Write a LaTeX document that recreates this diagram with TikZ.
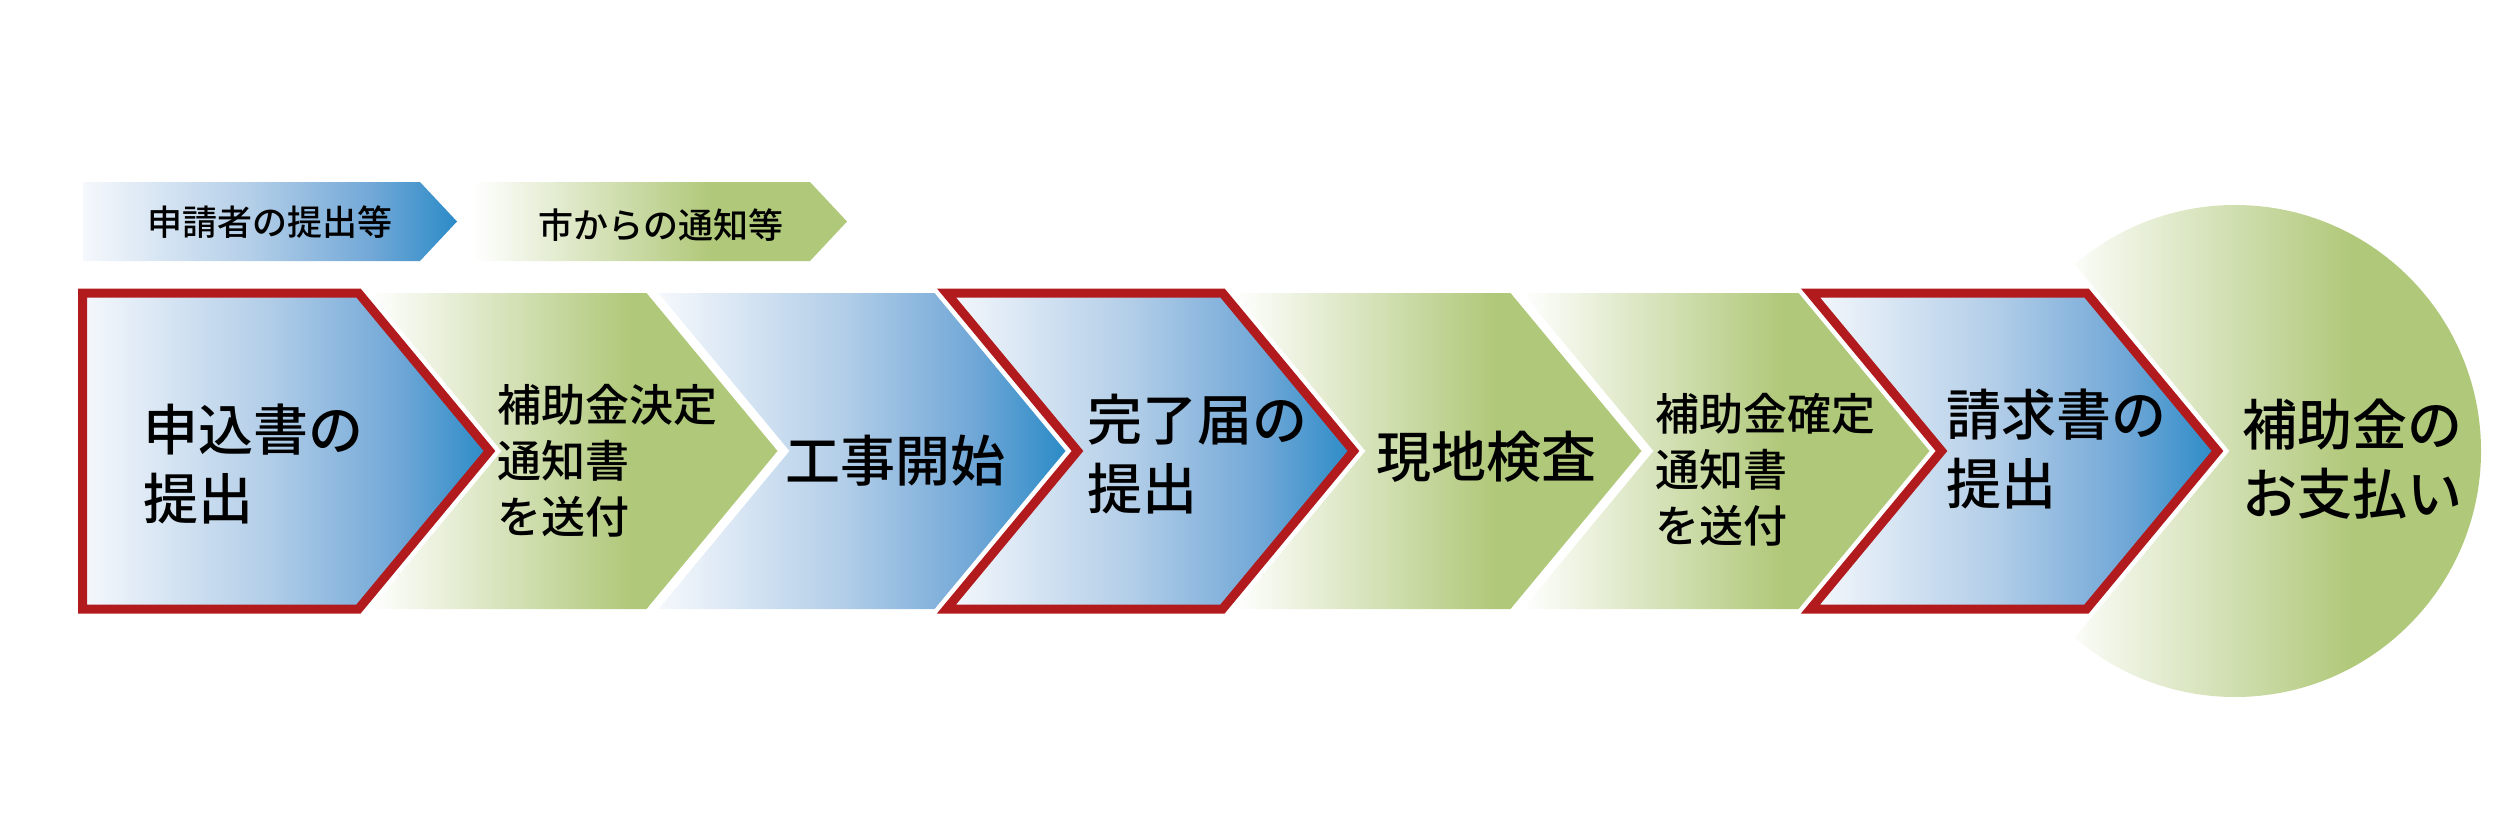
\documentclass[tikz,border=0pt]{standalone}
\usepackage{fontspec}
\IfFontExistsTF{Noto Sans CJK JP Medium}
  {\newfontfamily\jpfont{Noto Sans CJK JP Medium}\newcommand\jpwt{}}
  {\newfontfamily\jpfont{Noto Sans CJK JP}\newcommand\jpwt{\bfseries}}
\definecolor{grn}{HTML}{B0C879}
\definecolor{bluewhite}{HTML}{F5F8FC}
\definecolor{bluemid}{HTML}{B3CEE8}
\definecolor{bluemidb}{HTML}{72A8D7}
\definecolor{bluedark}{HTML}{2B8BC7}
\definecolor{redline}{HTML}{B11B1D}
\pgfdeclarehorizontalshading{greensh}{100bp}{color(0bp)=(white); color(25bp)=(white); color(57bp)=(grn); color(100bp)=(grn)}
\pgfdeclarehorizontalshading{circsh}{100bp}{color(0bp)=(white); color(32bp)=(white); color(62bp)=(grn); color(100bp)=(grn)}
\pgfdeclarehorizontalshading{bluesh}{100bp}{color(0bp)=(bluewhite); color(25bp)=(bluewhite); color(47.5bp)=(bluemid); color(63.5bp)=(bluemidb); color(75bp)=(bluedark); color(100bp)=(bluedark)}
\tikzset{
  greenchev/.style={shade, shading=greensh},
  circfill/.style={shade, shading=circsh},
  bluechev/.style={shade, shading=bluesh},
  redchev/.style={shade, shading=bluesh, draw=redline, line width=9pt, line join=miter},
  bigtxt/.style={anchor=west, inner sep=0pt, align=left, font=\jpfont\jpwt\fontsize{55}{69}\selectfont},
  midtxt/.style={anchor=west, inner sep=0pt, align=left, font=\jpfont\jpwt\fontsize{44}{56}\selectfont},
  legtxt/.style={anchor=west, inner sep=0pt, font=\jpfont\jpwt\fontsize{35}{40}\selectfont},
}
\begin{document}
\begin{tikzpicture}[x=1pt, y=-1pt]
\useasboundingbox (0,0) rectangle (2516,838);
% legend
\path[bluechev] (83,182) -- (420,182) -- (457,221.5) -- (420,261) -- (83,261) -- cycle;
\path[greenchev] (473,182) -- (810,182) -- (847,221.5) -- (810,261) -- (473,261) -- cycle;
\node[legtxt] (l1) at (147,222) {申請者の提出等};
\node[legtxt] (l2) at (538,225) {市からの通知等};
% circle (final step)
\begin{scope}
  \clip (1967.5,135) -- (2229.5,451) -- (1967.5,767) -- (2600,767) -- (2600,135) -- cycle;
  \path[circfill] (2235,451) circle[radius=246];
\end{scope}
% chevrons
\path[greenchev] (370.5,293) -- ++(276,0) -- ++(131,158) -- ++(-131,158) -- ++(-276,0) -- ++(131,-158) -- cycle;
\path[bluechev] (658.5,293) -- ++(276,0) -- ++(131,158) -- ++(-131,158) -- ++(-276,0) -- ++(131,-158) -- cycle;
\path[greenchev] (1234.5,293) -- ++(276,0) -- ++(131,158) -- ++(-131,158) -- ++(-276,0) -- ++(131,-158) -- cycle;
\path[greenchev] (1522.5,293) -- ++(276,0) -- ++(131,158) -- ++(-131,158) -- ++(-276,0) -- ++(131,-158) -- cycle;
\path[redchev] (82.5,293) -- ++(276,0) -- ++(131,158) -- ++(-131,158) -- ++(-276,0) -- cycle;
\path[redchev] (946.5,293) -- ++(276,0) -- ++(131,158) -- ++(-131,158) -- ++(-276,0) -- ++(131,-158) -- cycle;
\path[redchev] (1810.5,293) -- ++(276,0) -- ++(131,158) -- ++(-131,158) -- ++(-276,0) -- ++(131,-158) -- cycle;
% labels
\node[bigtxt] (t1) at (143,464.5) {申込書の\\提出};
\node[midtxt] (t2) at (497,461) {補助金決定\\通知書\\を送付};
\node[bigtxt] (t3) at (785,461) {工事開始};
\node[bigtxt] (t4) at (1087,454) {完了届の\\提出};
\node[bigtxt] (t5) at (1376,457) {現地検査};
\node[midtxt] (t6) at (1655,470) {補助金確定\\通知書\\を送付};
\node[bigtxt] (t7) at (1946,449.5) {請求書の\\提出};
\node[bigtxt] (t8) at (2242,459) {補助金の\\お支払い};
\end{tikzpicture}
\end{document}
